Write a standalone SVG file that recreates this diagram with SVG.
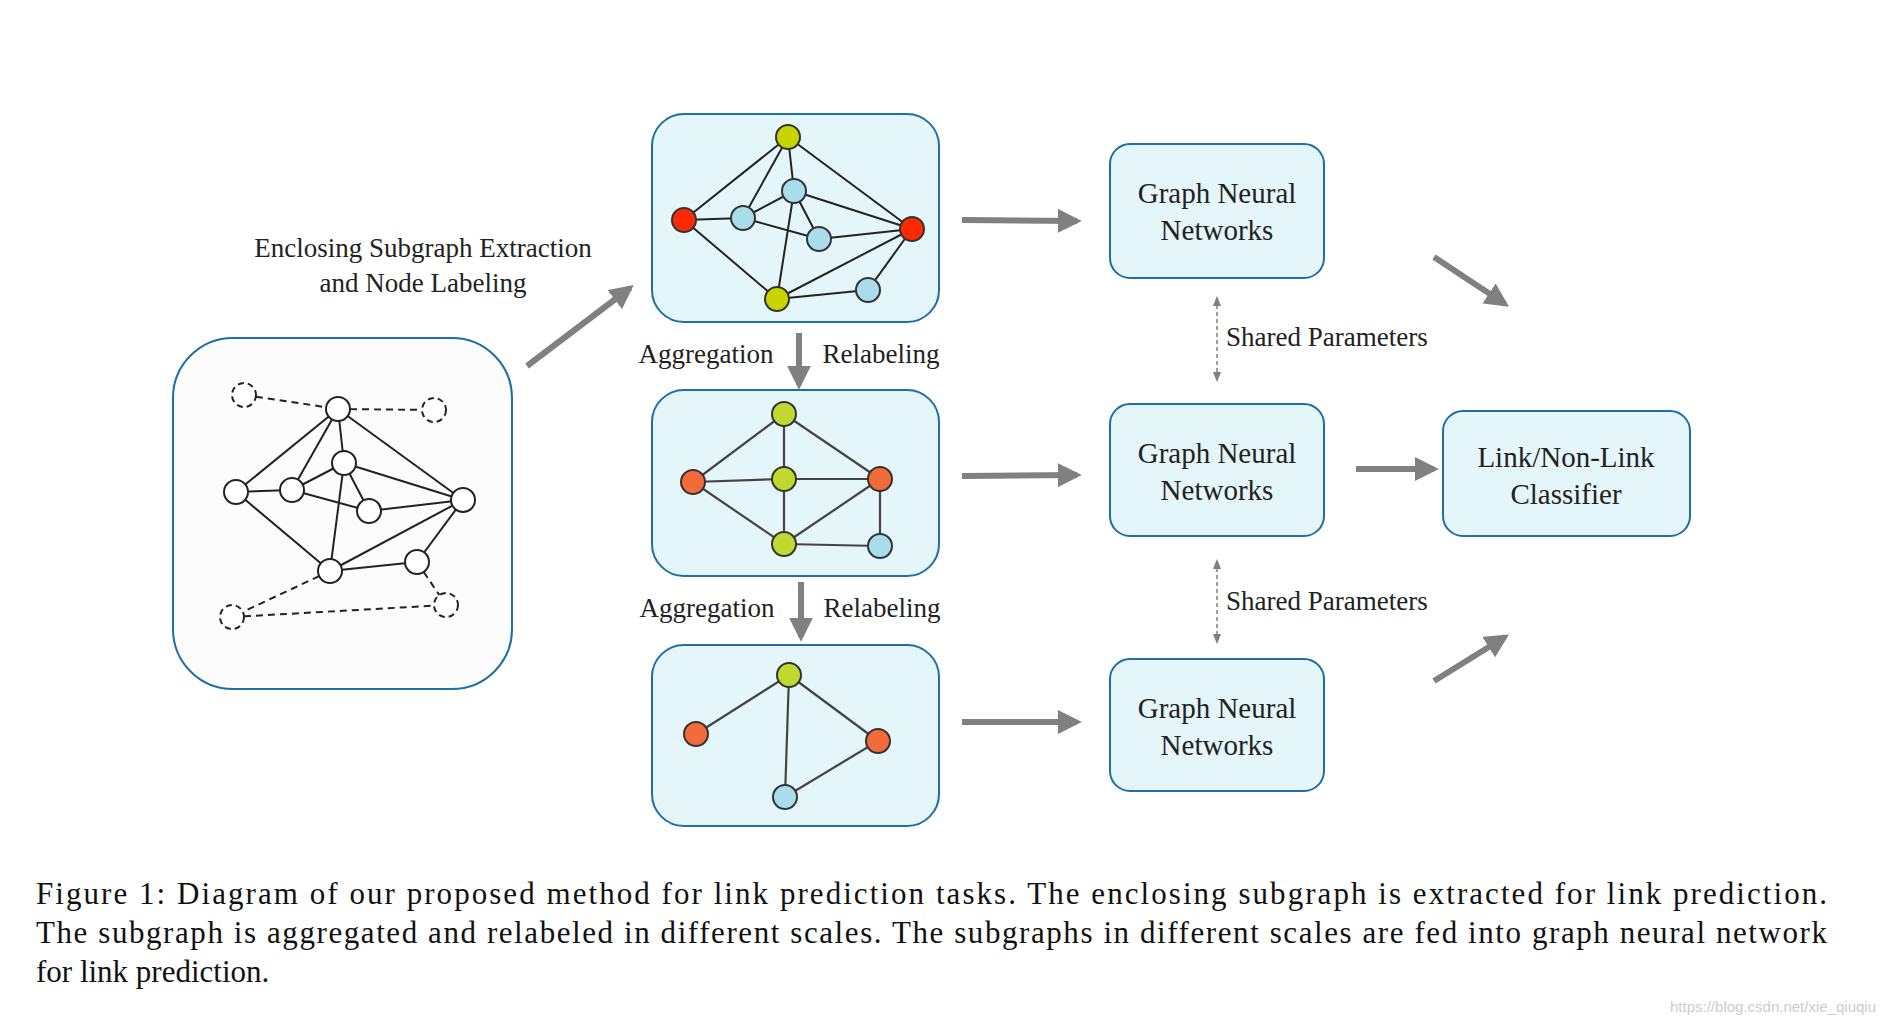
<svg xmlns="http://www.w3.org/2000/svg" width="1886" height="1026" viewBox="0 0 1886 1026">
<defs>
<marker id="ah" viewBox="0 0 10 10" refX="8" refY="5" markerWidth="4" markerHeight="4" orient="auto"><path d="M0,0 L10,5 L0,10 z" fill="#808080"/></marker>
<marker id="sa" viewBox="0 0 10 10" refX="8" refY="5" markerWidth="7" markerHeight="7" orient="auto-start-reverse"><path d="M0,1 L10,5 L0,9 z" fill="#808080"/></marker>
<style>
.box{fill:#e4f6fa;stroke:#1f6fa5;stroke-width:2}
.t{font-family:"Liberation Serif",serif;fill:#222;text-anchor:middle}
.e{stroke:#222;stroke-width:2;fill:none}
.e2{stroke:#444;stroke-width:2.2;fill:none}
.d{stroke:#222;stroke-width:2;stroke-dasharray:7,5;fill:none}
.n{fill:#fff;stroke:#222;stroke-width:2}
.nd{fill:#fff;stroke:#222;stroke-width:2;stroke-dasharray:6,4}
.a{stroke:#808080;stroke-width:6;fill:none;marker-end:url(#ah)}
.sp{stroke:#808080;stroke-width:1.5;stroke-dasharray:4,3;fill:none;marker-start:url(#sa);marker-end:url(#sa)}
.nn{stroke:#333;stroke-width:2}
</style>
</defs>
<rect width="1886" height="1026" fill="#fff"/>
<g id="input">
<rect x="173" y="338" width="339" height="351" rx="60" fill="#fcfcfc" stroke="#1f6fa5" stroke-width="2"/>
<path class="d" d="M244,395 L338,409 M338,409 L434,410 M330,571 L232,617 M232,617 L446,605 M417,562 L446,605"/>
<path class="e" d="M338,409 L236,492 M338,409 L292,490 M338,409 L344,463 M338,409 L463,500 M236,492 L292,490 M236,492 L330,571 M292,490 L344,463 M292,490 L369,511 M344,463 L369,511 M344,463 L463,500 M344,463 L330,571 M369,511 L463,500 M330,571 L463,500 M330,571 L417,562 M417,562 L463,500"/>
<circle class="nd" cx="244" cy="395" r="12"/><circle class="nd" cx="434" cy="410" r="12"/><circle class="nd" cx="232" cy="617" r="12"/><circle class="nd" cx="446" cy="605" r="12"/>
<circle class="n" cx="338" cy="409" r="12"/><circle class="n" cx="236" cy="492" r="12"/><circle class="n" cx="292" cy="490" r="12"/><circle class="n" cx="344" cy="463" r="12"/><circle class="n" cx="369" cy="511" r="12"/><circle class="n" cx="463" cy="500" r="12"/><circle class="n" cx="330" cy="571" r="12"/><circle class="n" cx="417" cy="562" r="12"/>
</g>
<g id="sub1">
<rect class="box" x="652" y="114" width="287" height="208" rx="32"/>
<path class="e" d="M788,137 L684,220 M788,137 L743,218 M788,137 L794,191 M788,137 L912,229 M684,220 L743,218 M684,220 L777,299 M743,218 L794,191 M743,218 L819,239 M794,191 L819,239 M794,191 L912,229 M794,191 L777,299 M819,239 L912,229 M777,299 L912,229 M777,299 L868,290 M868,290 L912,229"/>
<g class="nn"><circle cx="788" cy="137" r="12" fill="#c8d400"/><circle cx="777" cy="299" r="12" fill="#c8d400"/><circle cx="684" cy="220" r="12" fill="#ff2a00"/><circle cx="912" cy="229" r="12" fill="#ff2a00"/><circle cx="743" cy="218" r="12" fill="#a8dde9"/><circle cx="794" cy="191" r="12" fill="#a8dde9"/><circle cx="819" cy="239" r="12" fill="#a8dde9"/><circle cx="868" cy="290" r="12" fill="#a8dde9"/></g>
</g>
<g id="sub2">
<rect class="box" x="652" y="390" width="287" height="186" rx="32"/>
<path class="e2" d="M784,414 L693,482 M784,414 L784,479 M784,414 L880,479 M693,482 L784,479 M784,479 L880,479 M784,479 L784,544 M693,482 L784,544 M784,544 L880,479 M784,544 L880,546 M880,479 L880,546"/>
<g class="nn"><circle cx="784" cy="414" r="12" fill="#c0d930"/><circle cx="784" cy="479" r="12" fill="#c0d930"/><circle cx="784" cy="544" r="12" fill="#c0d930"/><circle cx="693" cy="482" r="12" fill="#f26b3a"/><circle cx="880" cy="479" r="12" fill="#f26b3a"/><circle cx="880" cy="546" r="12" fill="#a8dde9"/></g>
</g>
<g id="sub3">
<rect class="box" x="652" y="645" width="287" height="181" rx="32"/>
<path class="e2" d="M789,675 L696,734 M789,675 L878,741 M789,675 L785,797 M785,797 L878,741"/>
<g class="nn"><circle cx="789" cy="675" r="12" fill="#c0d930"/><circle cx="696" cy="734" r="12" fill="#f26b3a"/><circle cx="878" cy="741" r="12" fill="#f26b3a"/><circle cx="785" cy="797" r="12" fill="#a8dde9"/></g>
</g>
<g id="gnn1"><rect class="box" x="1110" y="144" width="214" height="134" rx="20"/><text class="t" font-size="29" x="1217" y="203">Graph Neural</text><text class="t" font-size="29" x="1217" y="240">Networks</text></g>
<g id="gnn2"><rect class="box" x="1110" y="404" width="214" height="132" rx="20"/><text class="t" font-size="29" x="1217" y="463">Graph Neural</text><text class="t" font-size="29" x="1217" y="500">Networks</text></g>
<g id="gnn3"><rect class="box" x="1110" y="659" width="214" height="132" rx="20"/><text class="t" font-size="29" x="1217" y="718">Graph Neural</text><text class="t" font-size="29" x="1217" y="755">Networks</text></g>
<g id="classifier"><rect class="box" x="1443" y="411" width="247" height="125" rx="20"/><text class="t" font-size="29" x="1566" y="467">Link/Non-Link</text><text class="t" font-size="29" x="1566" y="504">Classifier</text></g>
<g id="connectors">
<path class="a" d="M527,366 L630,288"/>
<path class="a" d="M962,220 L1077,221"/>
<path class="a" d="M962,476 L1077,475"/>
<path class="a" d="M962,722 L1077,722"/>
<path class="a" d="M799,333 L799,385"/>
<path class="a" d="M801,582 L801,637"/>
<path class="a" d="M1356,469 L1434,469"/>
<path class="a" d="M1434,257 L1505,304"/>
<path class="a" d="M1434,681 L1505,637"/>
<path class="sp" d="M1217,298 L1217,380"/>
<path class="sp" d="M1217,561 L1217,642"/>
</g>
<g id="labels">
<text class="t" font-size="27" x="423" y="257">Enclosing Subgraph Extraction</text>
<text class="t" font-size="27" x="423" y="292">and Node Labeling</text>
<text class="t" font-size="27" x="706" y="363">Aggregation</text>
<text class="t" font-size="27" x="881" y="363">Relabeling</text>
<text class="t" font-size="27" x="707" y="617">Aggregation</text>
<text class="t" font-size="27" x="882" y="617">Relabeling</text>
<text class="t" font-size="27" x="1226" y="346" text-anchor="start" style="text-anchor:start">Shared Parameters</text>
<text class="t" font-size="27" x="1226" y="610" style="text-anchor:start">Shared Parameters</text>
</g>
<g id="caption" font-family="Liberation Serif,serif" font-size="31" fill="#111">
<text x="36" y="904" textLength="1791" lengthAdjust="spacing">Figure 1: Diagram of our proposed method for link prediction tasks. The enclosing subgraph is extracted for link prediction.</text>
<text x="36" y="943" textLength="1791" lengthAdjust="spacing">The subgraph is aggregated and relabeled in different scales. The subgraphs in different scales are fed into graph neural network</text>
<text x="36" y="982">for link prediction.</text>
</g>
<text x="1876" y="1012" font-family="Liberation Sans,sans-serif" font-size="15" fill="#ccc" text-anchor="end">https://blog.csdn.net/xie_qiuqiu</text>
</svg>
